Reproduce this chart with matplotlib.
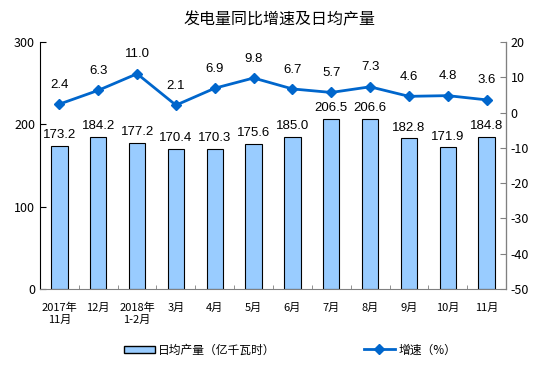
import matplotlib
matplotlib.use("Agg")
import matplotlib.pyplot as plt
import numpy as np
from matplotlib.lines import Line2D
from matplotlib.patches import Patch

plt.rcParams['font.family'] = ['Noto Sans CJK SC', 'DejaVu Sans']
plt.rcParams['axes.unicode_minus'] = False

months = ["2017年\n11月", "12月", "2018年\n1-2月", "3月", "4月", "5月", "6月",
          "7月", "8月", "9月", "10月", "11月"]
daily_output = [173.2, 184.2, 177.2, 170.4, 170.3, 175.6, 185.0, 206.5, 206.6, 182.8, 171.9, 184.8]
growth = [2.4, 6.3, 11.0, 2.1, 6.9, 9.8, 6.7, 5.7, 7.3, 4.6, 4.8, 3.6]

fig = plt.figure(figsize=(5.59, 3.85), dpi=100)
ax = fig.add_axes([40/559, 1-289/385, 466/559, 247/385])
ax2 = ax.twinx()

x = np.arange(len(months))
ax.bar(x, daily_output, width=0.42, color="#99CCFF", edgecolor="black", linewidth=0.8)
for xi, v in zip(x, daily_output):
    ax.text(xi, v + 6, f"{v:.1f}", ha="center", va="bottom", fontsize=9.5, family=["Liberation Sans", "DejaVu Sans"])

ax2.plot(x, growth, color="#0066CC", linewidth=2, marker="D", markersize=5)
for xi, v in zip(x, growth):
    ax2.text(xi, v + 3.8, f"{v:.1f}", ha="center", va="bottom", fontsize=9.5, family=["Liberation Sans", "DejaVu Sans"])

ax.set_xlim(-0.5, len(months) - 0.5)
ax.set_ylim(0, 300)
ax.set_yticks([0, 100, 200, 300])
ax2.set_ylim(-50, 20)
ax2.set_yticks(range(-50, 21, 10))

ax.set_xticks(x)
ax.set_xticklabels(months, fontsize=8)
ax.set_xticks(np.arange(-0.5, len(months), 1), minor=True)
ax.tick_params(axis="x", which="major", length=0, pad=10)
ax.tick_params(axis="x", which="minor", direction="in", length=3, color="gray")
ax.tick_params(axis="y", direction="in", length=4, labelsize=9)
ax2.tick_params(axis="y", direction="in", length=4, labelsize=9, color="gray")

for a in (ax, ax2):
    a.spines["top"].set_visible(False)
ax.spines["bottom"].set_color("gray")
ax2.spines["bottom"].set_visible(False)
ax2.spines["left"].set_visible(False)
ax2.spines["right"].set_color("gray")
ax.spines["left"].set_color("black")

fig.text(0.5, 1-20/385, "发电量同比增速及日均产量", ha="center", va="center", fontsize=11.5)

h1 = Patch(facecolor="#99CCFF", edgecolor="black", label="日均产量（亿千瓦时）")
h2 = Line2D([], [], color="#0066CC", linewidth=2, marker="D", markersize=5, label="增速（%）")
fig.legend(handles=[h1], loc="center", bbox_to_anchor=(200/559, 1-350/385), frameon=False,
           fontsize=8.5, handlelength=2.6, handleheight=0.6, handletextpad=0.3)
fig.legend(handles=[h2], loc="center", bbox_to_anchor=(410/559, 1-350/385), frameon=False,
           fontsize=8.5, handlelength=2.6, handletextpad=0.3)

fig.savefig("out.png", dpi=100)
